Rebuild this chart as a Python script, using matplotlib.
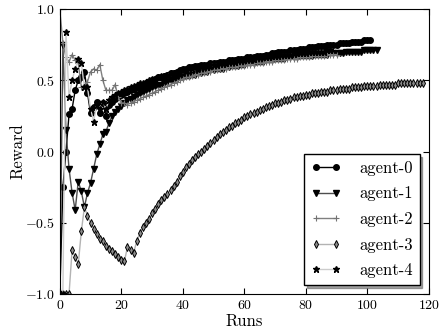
import matplotlib
matplotlib.use("Agg")
import matplotlib.pyplot as plt

# Reward per run for each agent
agent0 = [-1.0, -0.25, 0.0, 0.26, 0.30, 0.43, 0.50, 0.52, 0.56, 0.41, 0.27, 0.31, 0.35, 0.27, 0.34, 0.25, 0.33, 0.35, 0.37,
          0.38, 0.40, 0.41, 0.42, 0.43, 0.44, 0.45, 0.46, 0.47, 0.48, 0.49, 0.50, 0.51, 0.52, 0.52, 0.53, 0.54, 0.55, 0.55, 0.56, 0.57, 0.58,
          0.58, 0.59, 0.59, 0.60, 0.60, 0.61, 0.61, 0.61, 0.62, 0.62, 0.62, 0.63, 0.63, 0.63, 0.64, 0.64, 0.64, 0.65, 0.65, 0.65,
          0.66, 0.66, 0.66, 0.67, 0.67, 0.67, 0.68, 0.68, 0.69, 0.69, 0.70, 0.70, 0.70, 0.70, 0.71, 0.71, 0.71, 0.72, 0.72, 0.72,
          0.73, 0.73, 0.73, 0.74, 0.74, 0.74, 0.75, 0.75, 0.75, 0.75, 0.76, 0.76, 0.76, 0.76, 0.77, 0.77, 0.77, 0.77, 0.78, 0.78, 0.78]

agent1 = [-1.0, 0.75, 0.15, -0.12, -0.29, -0.41, -0.21, -0.28, -0.39, -0.29, -0.22, -0.12, -0.02, 0.05, 0.12,
          0.14, 0.20, 0.25, 0.28, 0.30, 0.32, 0.34, 0.36, 0.37, 0.38, 0.40,
          0.41, 0.42, 0.43, 0.44, 0.45, 0.46, 0.47, 0.47, 0.48, 0.49, 0.50, 0.50, 0.51, 0.52, 0.52, 0.53, 0.53, 0.54, 0.54, 0.55,
          0.55, 0.56, 0.56, 0.57, 0.57, 0.58, 0.58, 0.58, 0.59, 0.59, 0.60, 0.60, 0.60, 0.61, 0.61, 0.62, 0.62, 0.62, 0.63, 0.63,
          0.63, 0.64, 0.64, 0.64, 0.65,
          0.65, 0.65, 0.65, 0.66, 0.66, 0.66, 0.66, 0.67, 0.67, 0.67, 0.67, 0.67, 0.68, 0.68, 0.68, 0.68, 0.68,
          0.69, 0.69, 0.69, 0.69, 0.69, 0.70, 0.70, 0.70, 0.70, 0.70, 0.70, 0.71, 0.71, 0.71, 0.71, 0.71]

agent2 = [1.0, 0.76, 0.66, 0.63, 0.68, 0.64, 0.62, 0.45, 0.46, 0.49, 0.56, 0.58, 0.57, 0.61, 0.50, 0.43, 0.43, 0.43, 0.47,
          0.38, 0.34, 0.34, 0.33, 0.34, 0.35,
          0.36, 0.37, 0.38, 0.39, 0.40, 0.41, 0.42, 0.43, 0.44, 0.45, 0.46, 0.47, 0.48, 0.49, 0.50, 0.51, 0.52, 0.52, 0.53, 0.54, 0.54,
          0.55, 0.55, 0.56, 0.56, 0.57, 0.57, 0.58, 0.58, 0.58, 0.59, 0.59, 0.59, 0.60, 0.60, 0.60, 0.61, 0.61, 0.61, 0.62, 0.62,
          0.62, 0.63, 0.63, 0.63, 0.64,
          0.64, 0.64, 0.64, 0.65, 0.65, 0.65, 0.65, 0.66, 0.66, 0.66, 0.66, 0.67, 0.67, 0.67, 0.67, 0.67, 0.68, 0.68, 0.68, 0.68]

agent3 = [-1.0, -1.0, -1.0, -1.0, -0.69, -0.74, -0.79, -0.56, -0.39, -0.45, -0.50, -0.54, -0.58, -0.61, -0.63, -0.66,
          -0.68, -0.70, -0.72, -0.74, -0.76, -0.77,
          -0.67, -0.69, -0.71, -0.63, -0.57, -0.53, -0.50, -0.47, -0.43, -0.40, -0.37, -0.34, -0.32, -0.30, -0.27, -0.24,
          -0.21, -0.17, -0.14, -0.11,
          -0.09, -0.06, -0.04, -0.02, 0.00, 0.02, 0.04, 0.06, 0.08, 0.10, 0.12, 0.14, 0.15, 0.17, 0.18, 0.20, 0.21, 0.22, 0.24,
          0.25, 0.26, 0.27, 0.28, 0.29, 0.30, 0.31, 0.32, 0.33, 0.34, 0.34, 0.35, 0.36, 0.36, 0.37, 0.38, 0.38, 0.39, 0.39,
          0.40, 0.40, 0.41, 0.41, 0.41, 0.42,
          0.42, 0.42, 0.43, 0.43, 0.43, 0.44, 0.44, 0.44, 0.44, 0.45, 0.45, 0.45, 0.45, 0.46, 0.46, 0.46, 0.46, 0.46,
          0.47, 0.47, 0.47, 0.47, 0.47, 0.47, 0.48, 0.48, 0.48, 0.48, 0.48, 0.48, 0.48, 0.48, 0.48]

agent4 = [-1.0, -1.0, 0.84, 0.38, 0.50, 0.58, 0.65, 0.62, 0.45, 0.45, 0.30, 0.21,
          0.33, 0.30, 0.35, 0.30, 0.36, 0.38, 0.40, 0.41, 0.42, 0.43, 0.44, 0.45, 0.46, 0.47,
          0.48, 0.48, 0.49, 0.50, 0.51, 0.51, 0.52, 0.53, 0.53, 0.54, 0.55, 0.55, 0.56, 0.56, 0.57, 0.57, 0.58, 0.58, 0.59, 0.59,
          0.60, 0.60, 0.60, 0.61, 0.61, 0.61, 0.62, 0.62, 0.62, 0.63, 0.63, 0.63, 0.64, 0.64, 0.64, 0.65, 0.65, 0.65, 0.66, 0.66,
          0.66, 0.66, 0.67, 0.67, 0.67,
          0.67, 0.68, 0.68, 0.68, 0.68, 0.69, 0.69, 0.69, 0.69, 0.69, 0.70, 0.70, 0.70, 0.70, 0.70, 0.70, 0.71, 0.71]

labels = ['agent-0', 'agent-1', 'agent-2', 'agent-3', 'agent-4']

plt.rcParams['font.family'] = 'serif'
plt.rcParams['font.serif'] = ['cmr10', 'DejaVu Serif']
plt.rcParams['mathtext.fontset'] = 'cm'
plt.rcParams['axes.formatter.use_mathtext'] = True
plt.rcParams['xtick.direction'] = 'in'
plt.rcParams['ytick.direction'] = 'in'
plt.rcParams['xtick.top'] = True
plt.rcParams['ytick.right'] = True

fig = plt.figure(figsize=(4.43, 3.32), dpi=100)
ax = fig.add_axes([0.135, 0.114, 0.833, 0.859])

ax.plot(range(len(agent0)), agent0, color='black', lw=1.0, marker='o', ms=4, mfc='black', mec='black', label=labels[0])
ax.plot(range(len(agent1)), agent1, color='0.3', lw=1.0, marker='v', ms=4, mfc='black', mec='black', label=labels[1])
ax.plot(range(len(agent2)), agent2, color='0.5', lw=1.0, marker='+', ms=4.5, mew=0.8, mec='0.45', label=labels[2])
ax.plot(range(len(agent3)), agent3, color='0.7', lw=1.0, marker='d', ms=4, mfc='0.55', mec='black', mew=0.7, label=labels[3])
ax.plot(range(len(agent4)), agent4, color='0.8', lw=1.0, marker='*', ms=4.5, mfc='black', mec='black', label=labels[4])

ax.set_xlim(0, 120)
ax.set_ylim(-1.0, 1.0)
ax.set_xticks([0, 20, 40, 60, 80, 100, 120])
ax.set_yticks([-1.0, -0.5, 0.0, 0.5, 1.0])
ax.tick_params(labelsize=10, length=4)
ax.set_xlabel('Runs', fontsize=12, labelpad=1)
ax.set_ylabel('Reward', fontsize=12, labelpad=0)

leg = ax.legend(loc='lower right', fontsize=12, shadow=True, fancybox=False, numpoints=2,
                labelspacing=0.62, borderaxespad=0.55, handletextpad=1.1, handlelength=1.8)
leg.get_frame().set_edgecolor('black')
leg.get_frame().set_linewidth(1.0)

fig.savefig('out.png', dpi=100)
